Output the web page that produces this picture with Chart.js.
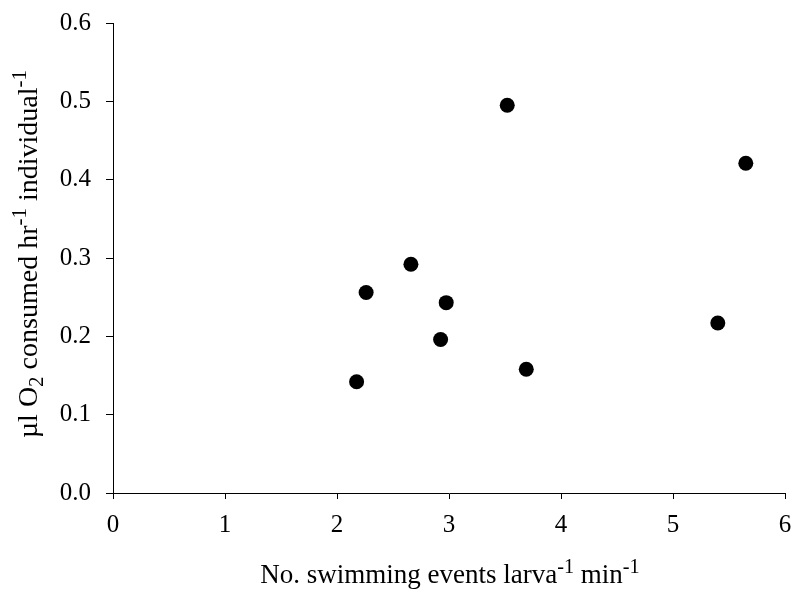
<!DOCTYPE html>
<html>
<head>
<meta charset="utf-8">
<script src="https://cdn.jsdelivr.net/npm/chart.js@4"></script>
<style>
html,body{margin:0;padding:0;background:#fff;}
#wrap{width:795px;height:590px;}
</style>
</head>
<body>
<div id="wrap"><canvas id="c" width="795" height="590"></canvas></div>
<script>
const swimEvents = [3.52, 5.65, 2.66, 2.26, 2.975, 2.925, 5.40, 3.69, 2.175];
const o2Consumed = [0.495, 0.421, 0.292, 0.256, 0.243, 0.196, 0.217, 0.158, 0.142];
const xTicks = [0, 1, 2, 3, 4, 5, 6];
const yTicks = [0.0, 0.1, 0.2, 0.3, 0.4, 0.5, 0.6];
const xTitleParts = [["No. swimming events larva", 0], ["-1", 1], [" min", 0], ["-1", 1]];
const yTitleParts = [["\u00b5l O", 0], ["2", -1], [" consumed hr", 0], ["-1", 1], [" individual", 0], ["-1", 1]];

const FONT = "'Liberation Serif', 'Times New Roman', serif";

function drawRich(ctx, parts, size) {
  const subSize = size * 0.75;
  let total = 0;
  parts.forEach(([t, s]) => {
    ctx.font = (s ? subSize : size) + "px " + FONT;
    total += ctx.measureText(t).width;
  });
  let x = -total / 2;
  parts.forEach(([t, s]) => {
    ctx.font = (s ? subSize : size) + "px " + FONT;
    const dy = s === 1 ? -size * 0.38 : (s === -1 ? size * 0.2 : 0);
    ctx.fillText(t, x, dy);
    x += ctx.measureText(t).width;
  });
}

const titlePlugin = {
  id: 'richTitles',
  afterDraw(chart) {
    const ctx = chart.ctx;
    const ca = chart.chartArea;
    ctx.save();
    ctx.fillStyle = '#000';
    ctx.textBaseline = 'alphabetic';
    ctx.textAlign = 'left';
    ctx.save();
    ctx.translate((ca.left + ca.right) / 2 + 1, 583);
    drawRich(ctx, xTitleParts, 27);
    ctx.restore();
    ctx.save();
    ctx.translate(37, 254);
    ctx.rotate(-Math.PI / 2);
    drawRich(ctx, yTitleParts, 28);
    ctx.restore();
    ctx.restore();
  }
};

new Chart(document.getElementById('c'), {
  type: 'scatter',
  data: {
    datasets: [{
      data: swimEvents.map((x, i) => ({x: x, y: o2Consumed[i]})),
      backgroundColor: '#000',
      borderColor: '#000',
      pointRadius: 7.5,
      pointHoverRadius: 7.5,
      borderWidth: 0
    }]
  },
  options: {
    responsive: false,
    animation: false,
    devicePixelRatio: 1,
    layout: {padding: {left: 0, right: 10, top: 23, bottom: 0}},
    plugins: {legend: {display: false}, tooltip: {enabled: false}},
    scales: {
      x: {
        type: 'linear',
        min: 0, max: 6,
        afterFit(s) { s.height = 97; s.paddingLeft = 0; s.paddingRight = 0; },
        afterBuildTicks(s) { s.ticks = xTicks.map(v => ({value: v})); },
        ticks: {color: '#000', font: {family: FONT, size: 25}, padding: 11, callback: v => String(v)},
        grid: {drawOnChartArea: false, drawTicks: true, tickLength: 6, color: '#000'},
        border: {display: true, color: '#000', width: 1}
      },
      y: {
        type: 'linear',
        min: 0, max: 0.6,
        afterFit(s) { s.width = 113; s.paddingTop = 0; s.paddingBottom = 0; },
        afterBuildTicks(s) { s.ticks = yTicks.map(v => ({value: v})); },
        ticks: {color: '#000', font: {family: FONT, size: 25}, padding: 15, callback: v => Number(v).toFixed(1)},
        grid: {drawOnChartArea: false, drawTicks: true, tickLength: 7, color: '#000'},
        border: {display: true, color: '#000', width: 1}
      }
    }
  },
  plugins: [titlePlugin]
});
</script>
</body>
</html>
